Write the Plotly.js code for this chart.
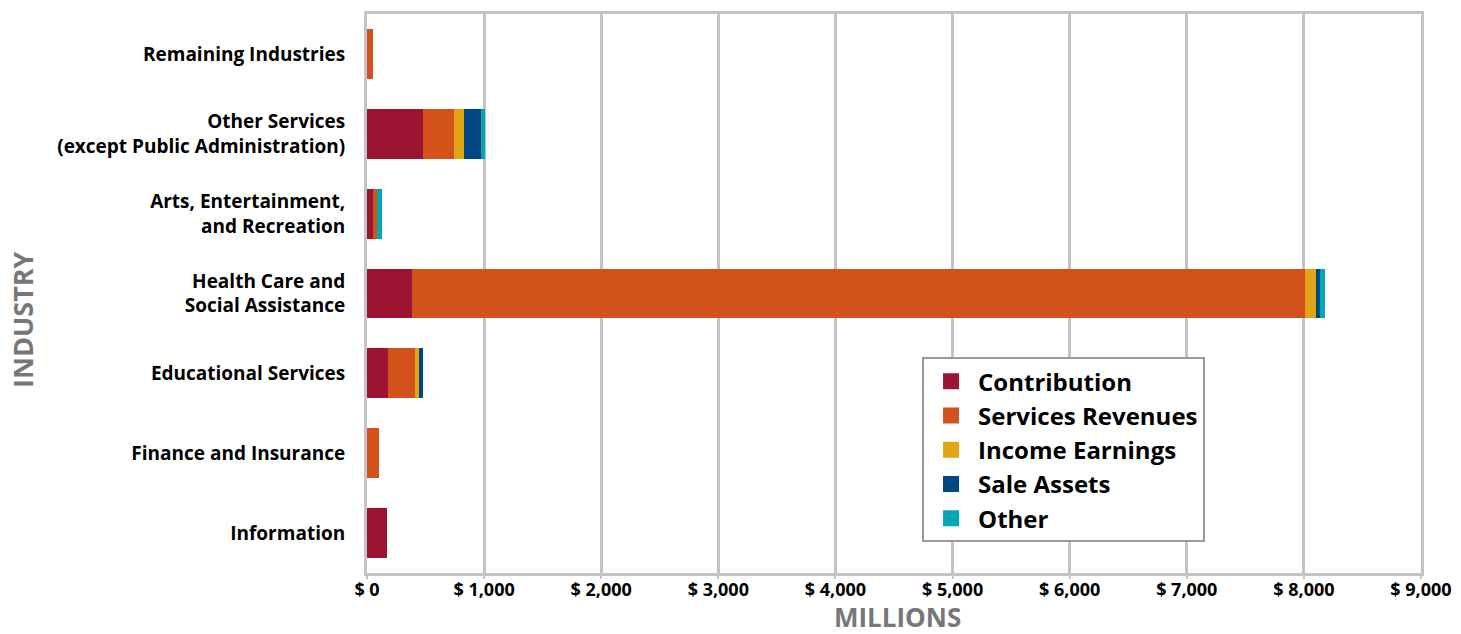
<!DOCTYPE html>
<html>
<head>
<meta charset="utf-8">
<script src="https://cdn.plot.ly/plotly-3.0.1.min.js"></script>
<style>html,body{margin:0;padding:0;background:#fff;}#chart{width:1461px;height:634px;}</style>
</head>
<body>
<div id="chart"></div>
<script>
const industries = [
  "Information",
  "Finance and Insurance",
  "Educational Services",
  "Health Care and<br>Social Assistance",
  "Arts, Entertainment,<br>and Recreation",
  "Other Services<br>(except Public Administration)",
  "Remaining Industries"
];
const contribution    = [174, 0, 179, 381, 54, 480, 0];
const servicesRevenue = [0, 102, 230, 7629, 34, 265, 54];
const incomeEarnings  = [0, 0, 37, 94, 0, 85, 0];
const saleAssets      = [0, 0, 34, 34, 0, 142, 0];
const other           = [0, 0, 0, 43, 37, 37, 0];
const xTicks = [0, 1000, 2000, 3000, 4000, 5000, 6000, 7000, 8000, 9000];
const xTickLabels = xTicks.map(v => "$ " + v.toLocaleString("en-US"));

const series = [
  {name: "Contribution", values: contribution, color: "#9b1531"},
  {name: "Services Revenues", values: servicesRevenue, color: "#d3511b"},
  {name: "Income Earnings", values: incomeEarnings, color: "#e0a514"},
  {name: "Sale Assets", values: saleAssets, color: "#004680"},
  {name: "Other", values: other, color: "#00a8b4"}
];

const FONT = "'Open Sans', 'Noto Sans', sans-serif";
const traces = series.map(s => ({
  type: "bar",
  orientation: "h",
  name: s.name,
  y: industries,
  x: s.values,
  marker: {color: s.color, line: {width: 0}},
  showlegend: false,
  hoverinfo: "x+name"
}));
// legend entries with larger square swatches
series.forEach(s => traces.push({
  type: "scatter",
  mode: "markers",
  name: s.name,
  x: [null], y: [null],
  marker: {symbol: "square", size: 20, color: s.color},
  showlegend: true,
  hoverinfo: "skip"
}));

const layout = {
  width: 1461, height: 634,
  margin: {l: 367, r: 40, t: 14, b: 61},
  barmode: "stack",
  bargap: 0.375,
  paper_bgcolor: "#ffffff",
  plot_bgcolor: "#ffffff",
  font: {family: FONT, color: "#000", size: 18, weight: "bold"},
  xaxis: {
    range: [0, 9000],
    tickvals: xTicks,
    ticktext: xTickLabels,
    showgrid: true,
    gridcolor: "#c4c4c8",
    gridwidth: 3,
    zeroline: false,
    showline: true,
    linecolor: "#c4c4c8",
    linewidth: 3,
    mirror: true,
    ticks: "outside",
    ticklen: 3,
    tickwidth: 2,
    tickcolor: "#c4c4c8",
    ticklabelstandoff: -5,
    tickfont: {family: FONT, size: 18, color: "#000", weight: "bold"},
    automargin: false,
    fixedrange: true
  },
  yaxis: {
    type: "category",
    showgrid: false,
    zeroline: false,
    showline: true,
    linecolor: "#c4c4c8",
    linewidth: 3,
    mirror: true,
    ticks: "",
    ticklabelstandoff: 15,
    tickfont: {family: FONT, size: 19, color: "#000", weight: "bold"},
    automargin: false,
    fixedrange: true
  },
  legend: {
    x: 0.5266, y: 0.386, xanchor: "left", yanchor: "top",
    bgcolor: "#ffffff",
    bordercolor: "#9a9a9d",
    borderwidth: 2,
    font: {family: FONT, size: 24, color: "#000", weight: "bold"},
    traceorder: "normal",
    itemsizing: "trace",
    itemwidth: 44
  },
  annotations: [{
    text: "INDUSTRY",
    xref: "paper", yref: "paper",
    x: (22 - 367) / 1054, y: (573 - 320) / 559,
    xanchor: "center", yanchor: "middle",
    textangle: -90,
    showarrow: false,
    font: {family: FONT, size: 27, color: "#77777a", weight: "bold"}
  }, {
    text: "MILLIONS",
    xref: "paper", yref: "paper",
    x: (897 - 367) / 1054, y: (573 - 617) / 559,
    xanchor: "center", yanchor: "middle",
    showarrow: false,
    font: {family: FONT, size: 26, color: "#77777a", weight: "bold"}
  }],
  showlegend: true
};

Plotly.newPlot("chart", traces, layout, {displayModeBar: false, staticPlot: true});
</script>
</body>
</html>
